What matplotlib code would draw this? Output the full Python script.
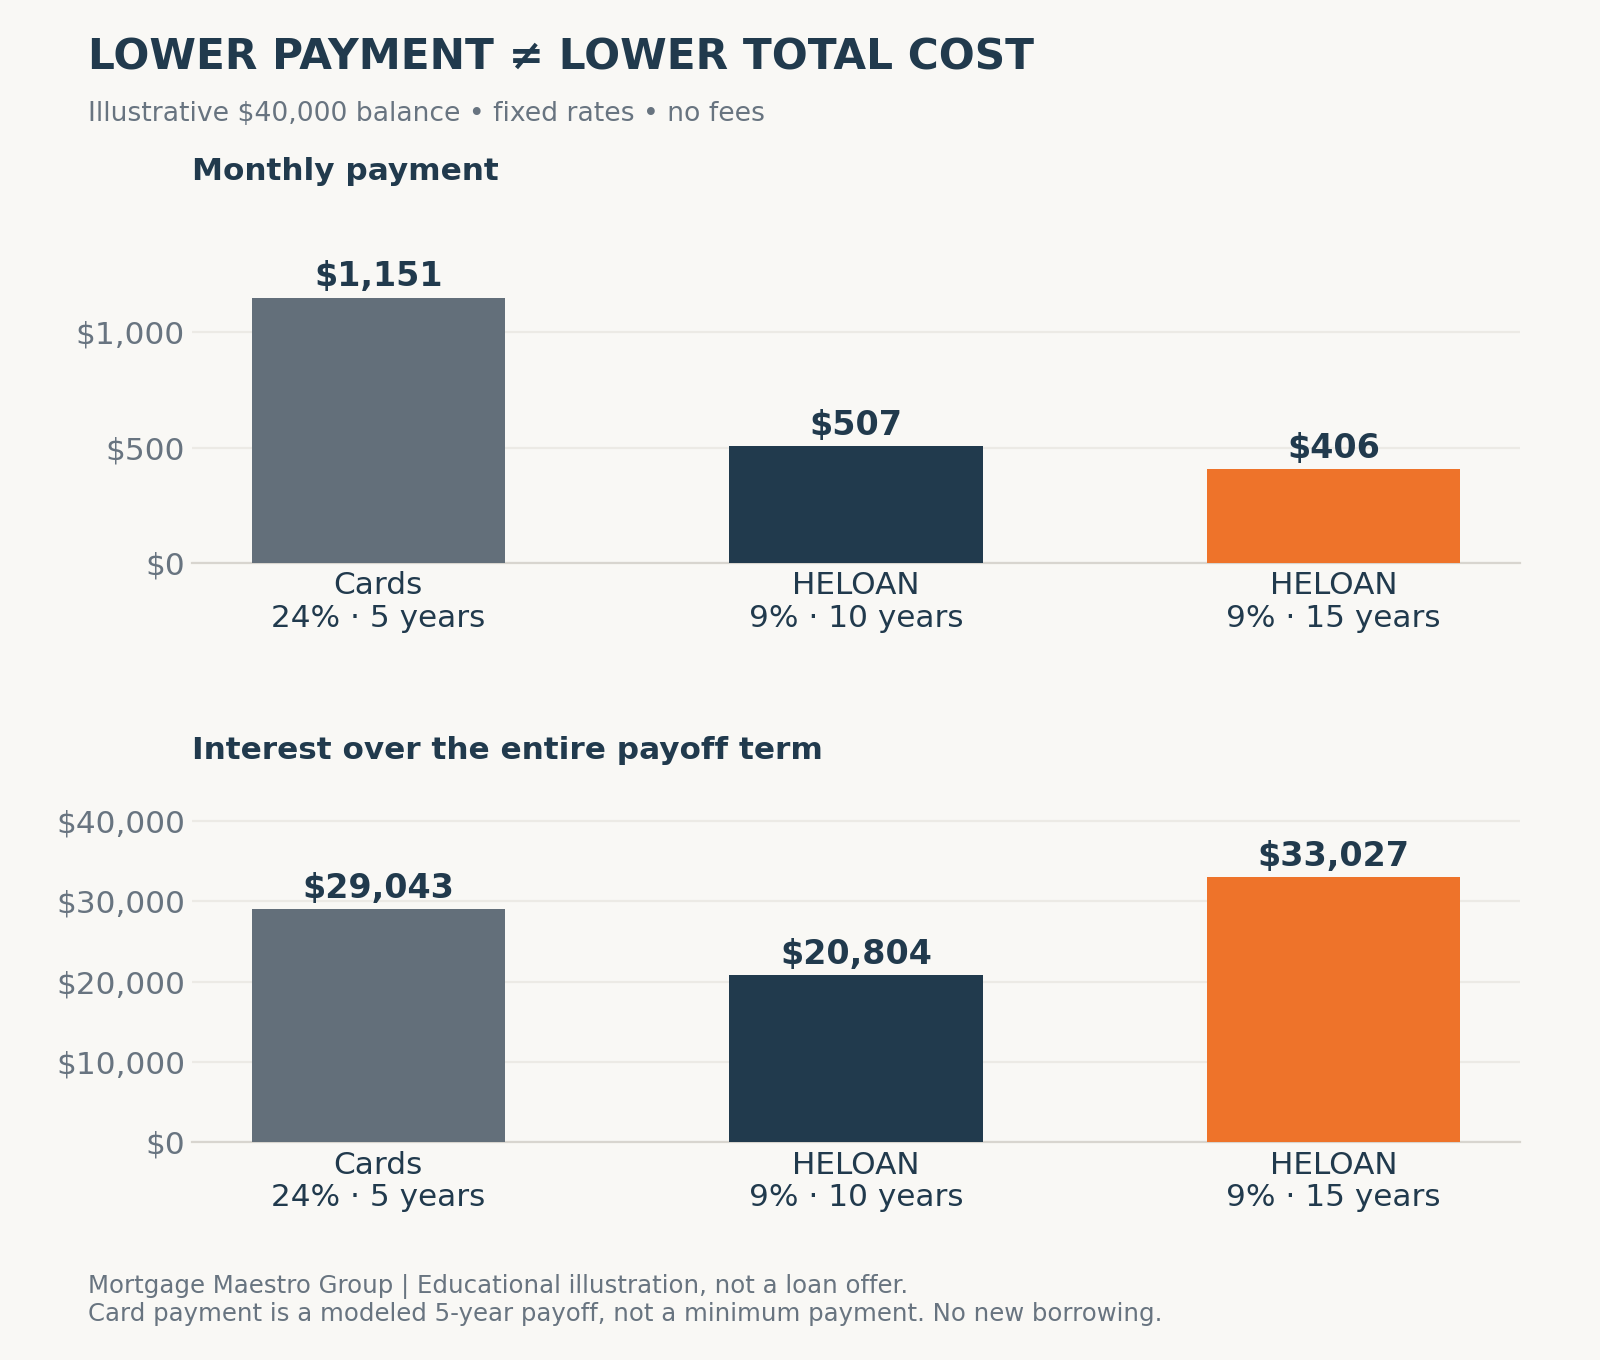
import matplotlib
matplotlib.use("Agg")
import matplotlib.pyplot as plt
from matplotlib.ticker import FuncFormatter, MultipleLocator

categories = ["Cards\n24% · 5 years", "HELOAN\n9% · 10 years", "HELOAN\n9% · 15 years"]
monthly_payment = [1151, 507, 406]
total_interest = [29043, 20804, 33027]
bar_colors = ["#636F7A", "#213A4D", "#EE732A"]

BG = "#F9F8F5"
NAVY = "#213A4D"
GRAY = "#687480"

plt.rcParams["font.family"] = ["DejaVu Sans"]

fig = plt.figure(figsize=(8, 6.8), dpi=200, facecolor=BG)

def draw(ax, values, title, step):
    x = list(range(len(values)))
    ax.set_facecolor(BG)
    ax.bar(x, values, width=0.53, color=bar_colors, zorder=3)
    for xi, v in zip(x, values):
        ax.annotate(f"${v:,.0f}", (xi, v), xytext=(0, 1.5), textcoords="offset points",
                    ha="center", va="bottom", fontsize=12, fontweight="bold", color=NAVY)
    ax.set_xlim(-0.39, 2.39)
    ax.set_ylim(0, max(values) * 1.25)
    ax.yaxis.set_major_locator(MultipleLocator(step))
    ax.yaxis.set_major_formatter(FuncFormatter(lambda v, p: f"${v:,.0f}"))
    ax.set_xticks(x)
    ax.set_xticklabels(categories, fontsize=11.2, color=NAVY, linespacing=1.15)
    ax.tick_params(axis="y", length=0, labelsize=11.2, labelcolor=GRAY, pad=2.5)
    ax.tick_params(axis="x", length=0, pad=3)
    ax.grid(axis="y", color="#ECEAE5", linewidth=0.8, zorder=0)
    for s in ["top", "right", "left"]:
        ax.spines[s].set_visible(False)
    ax.spines["bottom"].set_color("#D8D5CF")
    ax.spines["bottom"].set_linewidth(0.8)
    ax.set_title(title, loc="left", fontsize=11.2, fontweight="bold", color=NAVY, pad=18.5)

ax1 = fig.add_axes([0.12, 0.586, 0.83, 0.244])
draw(ax1, monthly_payment, "Monthly payment", 500)
ax2 = fig.add_axes([0.12, 0.160, 0.83, 0.244])
draw(ax2, total_interest, "Interest over the entire payoff term", 10000)

fig.text(88 / 1600, 1 - 69 / 1360, "LOWER PAYMENT ≠ LOWER TOTAL COST", fontsize=15.2,
         fontweight="bold", color=NAVY, ha="left", va="baseline")
fig.text(88 / 1600, 1 - 121 / 1360, "Illustrative $40,000 balance • fixed rates • no fees",
         fontsize=9.6, color=GRAY, ha="left", va="baseline")
fig.text(88 / 1600, 1 - 1293 / 1360,
         "Mortgage Maestro Group | Educational illustration, not a loan offer.",
         fontsize=8.8, color=GRAY, ha="left", va="baseline")
fig.text(88 / 1600, 1 - 1321 / 1360,
         "Card payment is a modeled 5-year payoff, not a minimum payment. No new borrowing.",
         fontsize=8.8, color=GRAY, ha="left", va="baseline")

fig.savefig("out.png", dpi=200, facecolor=BG)
